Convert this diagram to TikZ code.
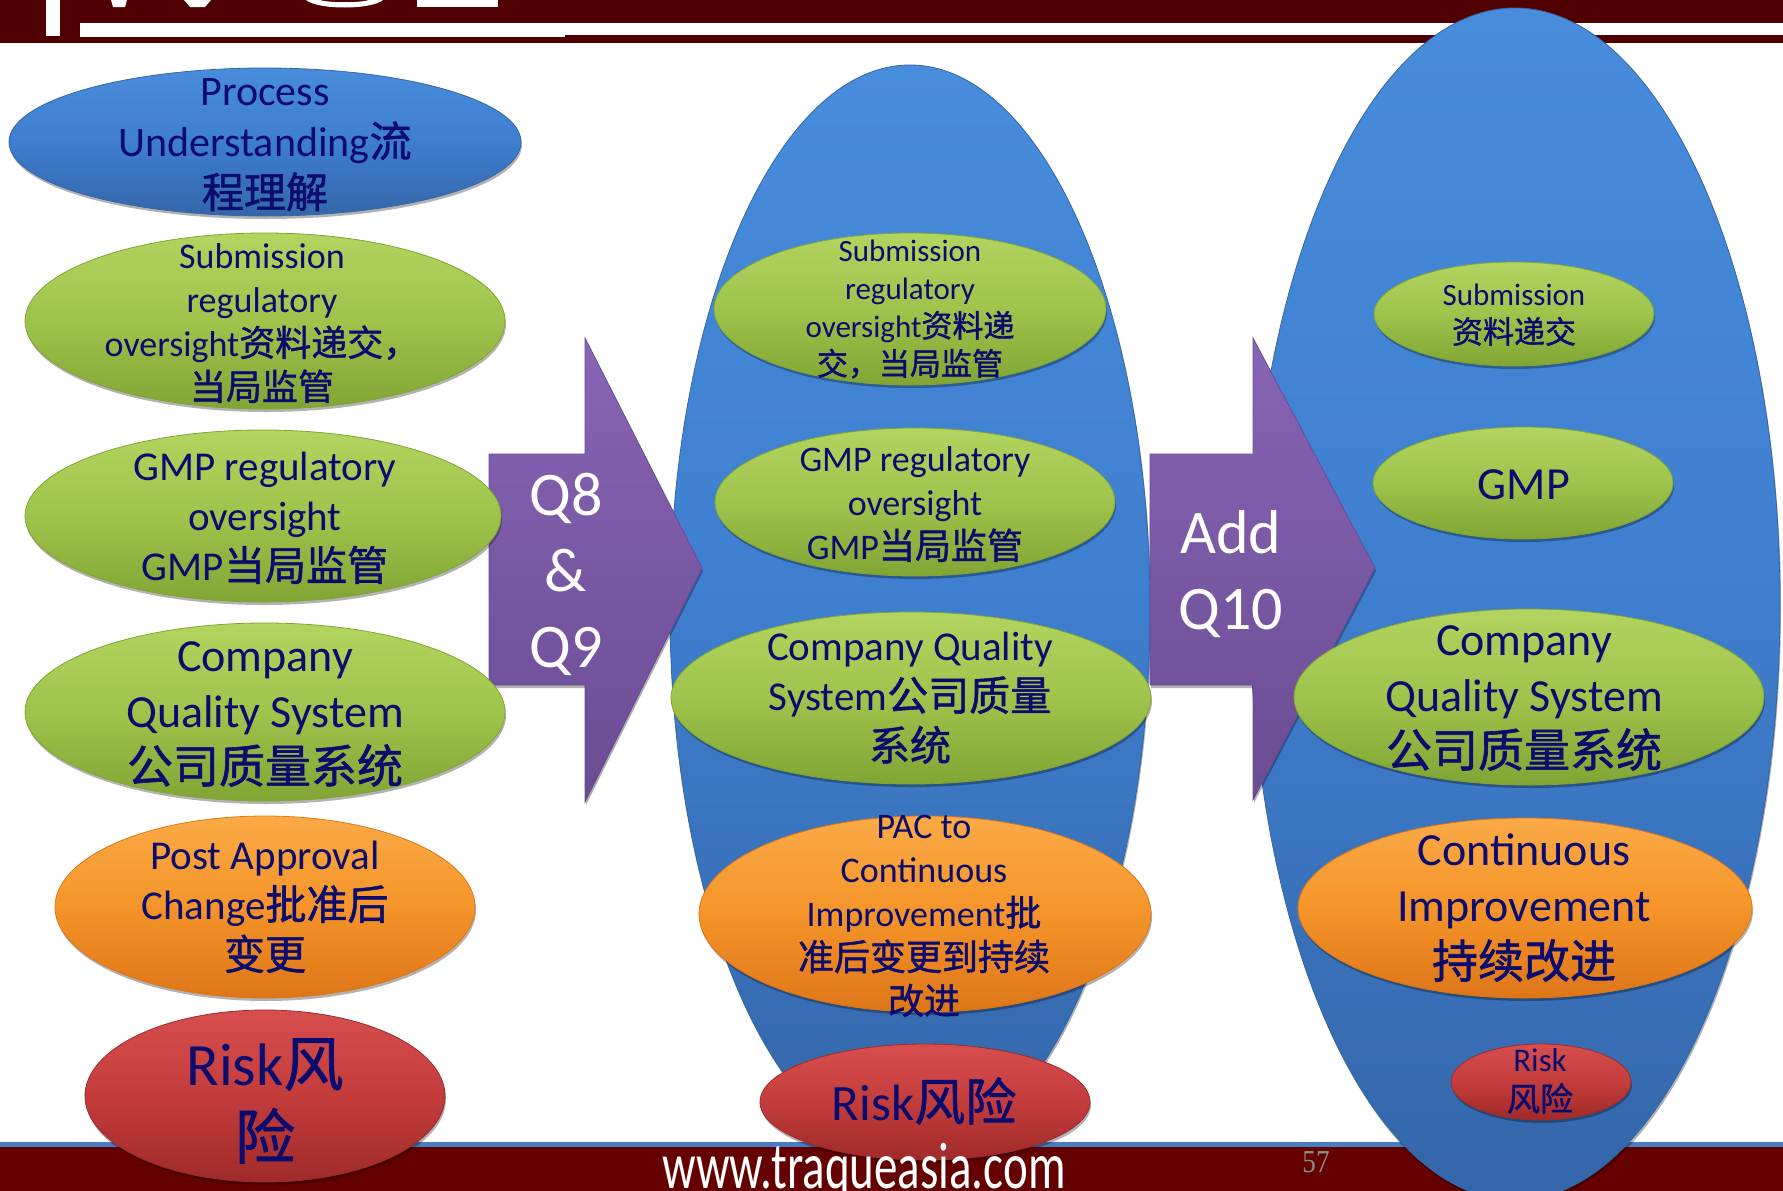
\documentclass[tikz,border=0pt]{standalone}
\usepackage{fontspec}
\usepackage{graphicx}
\setmainfont{Carlito}
\newfontfamily\cjk[FakeBold=1.3]{Noto Sans CJK SC}
\newfontfamily\serifnum{Liberation Serif}
\usetikzlibrary{shapes.geometric,shadows}
\newcommand\zh[1]{{\cjk #1}}
\definecolor{topred}{RGB}{80,0,0}
\definecolor{botred}{RGB}{100,0,0}
\definecolor{lineblue}{RGB}{70,125,195}
\definecolor{txtnavy}{RGB}{12,12,110}
\definecolor{bbTop}{RGB}{72,140,220}
\definecolor{bbMid}{RGB}{62,126,206}
\definecolor{bbBot}{RGB}{52,102,168}
\definecolor{gTop}{RGB}{178,212,96}
\definecolor{gMid}{RGB}{158,196,76}
\definecolor{gBot}{RGB}{128,165,52}
\definecolor{oTop}{RGB}{250,170,70}
\definecolor{oMid}{RGB}{245,148,42}
\definecolor{oBot}{RGB}{222,118,24}
\definecolor{rTop}{RGB}{215,78,78}
\definecolor{rMid}{RGB}{195,60,60}
\definecolor{rBot}{RGB}{160,42,42}
\definecolor{pTop}{RGB}{136,100,182}
\definecolor{pBot}{RGB}{106,76,146}
\definecolor{pgGray}{RGB}{140,140,140}
\begin{document}
\begin{tikzpicture}[x=1pt,y=-1pt,
  ellbase/.style={ellipse, inner sep=0pt, line width=0.8pt,
    drop shadow={shadow xshift=1pt, shadow yshift=-3pt, opacity=0.3, fill=black}},
  bigblue/.style={ellbase, draw=bbBot, top color=bbTop, bottom color=bbBot, middle color=bbMid},
  blueell/.style={ellbase, draw=bbBot, top color=bbTop, bottom color=bbBot, middle color=bbMid},
  greenell/.style={ellbase, draw=gBot, top color=gTop, bottom color=gBot, middle color=gMid},
  orangeell/.style={ellbase, draw=oBot, top color=oTop, bottom color=oBot, middle color=oMid},
  redell/.style={ellbase, draw=rBot, top color=rTop, bottom color=rBot, middle color=rMid},
  arrowshape/.style={draw=pBot, line width=0.8pt, top color=pTop, bottom color=pBot,
    drop shadow={shadow xshift=1pt, shadow yshift=-3pt, opacity=0.3, fill=black}},
  txt/.style={text=txtnavy, align=center, inner sep=0pt},
  atxt/.style={text=white, align=center, inner sep=0pt, font=\fontsize{62}{76}\selectfont}
]
\useasboundingbox (0,0) rectangle (1783,1191);
\clip (0,0) rectangle (1783,1191);

% ---- top bar ----
\fill[topred] (0,0) rectangle (1783,43);
\fill[white] (565,23) rectangle (1783,35);
\fill[white] (80,23) rectangle (565,37);
\fill[white] (46,0) rectangle (60,36);
\fill[white] (111,0) -- (127,0) -- (125,7) -- (113,7) -- cycle;
\fill[white] (184,0) -- (211,0) -- (205,7) -- (190,7) -- cycle;
\fill[white] (306,0) .. controls (318,10) and (371,10) .. (383,0) -- (369,0) .. controls (360,3) and (329,3) .. (320,0) -- cycle;
\fill[white] (417,0) rectangle (498,7);

% ---- bottom bar ----
\fill[lineblue] (0,1142) rectangle (1783,1147);
\fill[botred] (0,1147) rectangle (1783,1191);

% ---- big blue ellipses ----
\node[bigblue, minimum width=480pt, minimum height=1090pt] (midbig) at (910,610) {};
\node[bigblue, minimum width=530pt, minimum height=1192pt] (rightbig) at (1515,604) {};

% ---- arrows ----
\path[arrowshape] (489,454) -- (585,454) -- (585,338) -- (702,568) -- (585,802) -- (585,685) -- (489,685) -- cycle;
\node[atxt] (q89) at (566,574) {Q8\\\&\\Q9};
\path[arrowshape] (1150,454) -- (1253,454) -- (1253,338) -- (1375,568) -- (1253,800) -- (1253,685) -- (1150,685) -- cycle;
\node[atxt] (q10) at (1231,574) {Add\\Q10};

% ---- left column ----
\node[blueell, minimum width=512pt, minimum height=148pt] (L1) at (265,142) {};
\node[greenell, minimum width=480pt, minimum height=176pt] (L2) at (265,321) {};
\node[greenell, minimum width=476pt, minimum height=172pt] (L3) at (263,516) {};
\node[greenell, minimum width=480pt, minimum height=178pt] (L4) at (265,712) {};
\node[orangeell, minimum width=420pt, minimum height=182pt] (L5) at (265,907) {};
\node[redell, minimum width=360pt, minimum height=172pt] (L6) at (265,1096) {};

\node[txt, font=\fontsize{42}{51}\selectfont] (tL1) at (265,145) {Process\\Understanding\zh{流}\\\zh{程理解}};
\node[txt, font=\fontsize{36}{44}\selectfont] (tL2) at (262,323) {Submission\\regulatory\\oversight\zh{资料递交，}\\\zh{当局监管}};
\node[txt, font=\fontsize{41}{50}\selectfont] (tL3) at (265,518) {GMP regulatory\\oversight\\GMP\zh{当局监管}};
\node[txt, font=\fontsize{46}{56}\selectfont] (tL4) at (265,714) {Company\\Quality System\\\zh{公司质量系统}};
\node[txt, font=\fontsize{41}{50}\selectfont] (tL5) at (265,907) {Post Approval\\Change\zh{批准后}\\\zh{变更}};
\node[txt, font=\fontsize{60}{73}\selectfont] (tL6) at (265,1101) {Risk\zh{风}\\\zh{险}};

% ---- middle column ----
\node[greenell, minimum width=392pt, minimum height=152pt] (M1) at (910,309) {};
\node[greenell, minimum width=400pt, minimum height=148pt] (M2) at (915,502) {};
\node[greenell, minimum width=480pt, minimum height=172pt] (M3) at (911,698) {};
\node[orangeell, minimum width=452pt, minimum height=196pt] (M4) at (925,914) {};
\node[redell, minimum width=330pt, minimum height=116pt] (M5) at (925,1102) {};

\node[txt, font=\fontsize{31}{38}\selectfont] (tM1) at (910,309) {Submission\\regulatory\\oversight\zh{资料递}\\\zh{交，当局监管}};
\node[txt, font=\fontsize{36}{44}\selectfont] (tM2) at (915,504) {GMP regulatory\\oversight\\GMP\zh{当局监管}};
\node[txt, font=\fontsize{41}{50}\selectfont] (tM3) at (910,698) {Company Quality\\System\zh{公司质量}\\\zh{系统}};
\node[txt, font=\fontsize{36}{44}\selectfont] (tM4) at (924,916) {PAC to\\Continuous\\Improvement\zh{批}\\\zh{准后变更到持续}\\\zh{改进}};
\node[txt, font=\fontsize{51}{60}\selectfont] (tM5) at (924,1101) {Risk\zh{风险}};

% ---- right column ----
\node[greenell, minimum width=280pt, minimum height=104pt] (R1) at (1514,314) {};
\node[greenell, minimum width=300pt, minimum height=112pt] (R2) at (1523,483) {};
\node[greenell, minimum width=470pt, minimum height=176pt] (R3) at (1529,697) {};
\node[orangeell, minimum width=454pt, minimum height=180pt] (R4) at (1525,908) {};
\node[redell, minimum width=180pt, minimum height=76pt] (R5) at (1541,1082) {};

\node[txt, font=\fontsize{31}{37.5}\selectfont] (tR1) at (1514,315) {Submission\\\zh{资料递交}};
\node[txt, font=\fontsize{46}{56}\selectfont] (tR2) at (1524,485) {GMP};
\node[txt, font=\fontsize{46}{56}\selectfont] (tR3) at (1524,698) {Company\\Quality System\\\zh{公司质量系统}};
\node[txt, font=\fontsize{46}{56}\selectfont] (tR4) at (1524,908) {Continuous\\Improvement\\\zh{持续改进}};
\node[txt, font=\fontsize{33}{40}\selectfont] (tR5) at (1540,1081) {Risk\\\zh{风险}};

% ---- footer ----
\node[anchor=base, text=white, inner sep=0pt, font=\fontsize{47}{47}\selectfont] (web) at (864,1188) {\scalebox{1}[1.4]{www.traqueasia.com}};
\node[text=pgGray, inner sep=0pt, font=\serifnum\fontsize{32}{32}\selectfont] (pg) at (1316,1162) {\scalebox{0.85}[1]{57}};
\end{tikzpicture}
\end{document}
